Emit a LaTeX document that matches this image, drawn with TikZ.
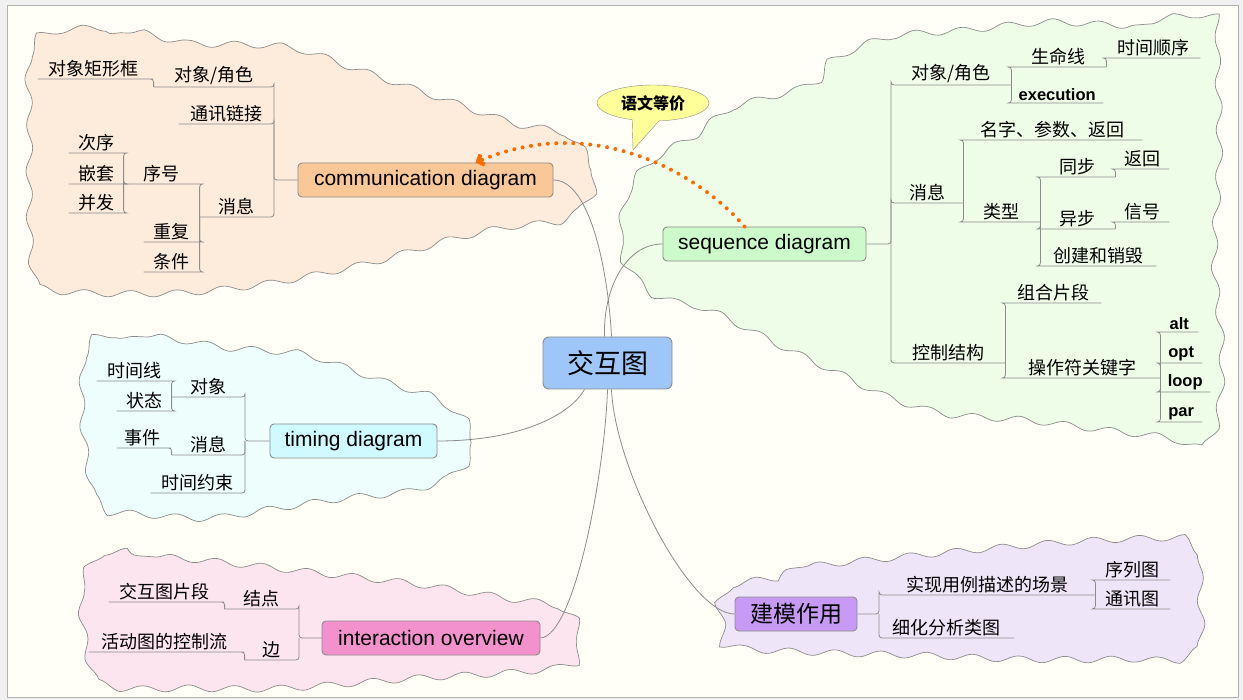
\documentclass[tikz,border=0pt]{standalone}
\usepackage{fontspec}
\setmainfont{Liberation Sans}
\newfontfamily\cjk{Noto Sans CJK SC}
\usetikzlibrary{decorations.pathmorphing,shapes.callouts,arrows.meta}
\definecolor{paper}{HTML}{FFFFF7}
\definecolor{rim}{HTML}{8C8C8C}
\definecolor{peach}{HTML}{FDEBDC}
\definecolor{mint}{HTML}{EEFDE8}
\definecolor{ice}{HTML}{EEFEFC}
\definecolor{blush}{HTML}{FCE5EF}
\definecolor{lilac}{HTML}{EFE5F9}
\definecolor{commcol}{HTML}{FAC796}
\definecolor{seqcol}{HTML}{CDFACB}
\definecolor{timcol}{HTML}{CFFAFF}
\definecolor{intcol}{HTML}{F291CB}
\definecolor{modcol}{HTML}{C69AF5}
\definecolor{ctrcol}{HTML}{9EC6F8}
\definecolor{dotcol}{HTML}{FF6A00}
\definecolor{notecol}{HTML}{FFFF99}

\begin{document}
\begin{tikzpicture}[x=1pt,y=-1pt,
    topic/.style={draw=rim, line width=0.9pt, rounded corners=4pt, minimum height=34, inner xsep=4pt, font=\fontsize{21}{24}\selectfont},
    lbl/.style={inner xsep=0pt, inner ysep=2pt, font={\cjk\fontsize{18}{20}\selectfont}},
    en/.style={inner xsep=0pt, inner ysep=2pt, font={\bfseries\fontsize{16.5}{19}\selectfont}},
    br/.style={draw=rim, line width=0.8pt, rounded corners=3pt},
    link/.style={draw=rim, line width=0.8pt},
    blob/.style={draw=rim, line width=0.7pt, decorate, decoration={snake, amplitude=3.2pt, segment length=46pt}}]
\useasboundingbox (0,0) rectangle (1243,700);
\fill[gray!12] (0,0) rectangle (1243,700);
\filldraw[fill=paper, draw=gray!60] (7,5) rectangle (1238,697);

% clouds
\path[blob, fill=peach] plot[smooth cycle] coordinates {(24,43) (130,33) (174,43) (277,47) (348,70) (435,100) (502,123) (553,133) (577,157) (583,180) (577,200) (553,220) (494,227) (435,240) (356,263) (257,283) (158,293) (40,290) (18,267) (16,133)};
\path[blob, fill=mint] plot[smooth cycle] coordinates {(1219,20) (1136,25) (1057,22) (977,30) (898,37) (838,63) (819,87) (739,110) (711,133) (668,157) (640,187) (630,233) (636,267) (668,300) (719,313) (787,347) (850,377) (898,400) (957,417) (1037,423) (1116,433) (1176,440) (1220,447) (1231,367) (1223,267) (1228,167) (1226,70)};
\path[blob, fill=ice] plot[smooth cycle] coordinates {(80,343) (147,337) (214,347) (290,353) (335,367) (379,383) (424,397) (455,420) (464,450) (446,473) (401,490) (335,497) (268,507) (201,517) (134,513) (89,507) (76,460) (71,393)};
\path[blob, fill=blush] plot[smooth cycle] coordinates {(85,557) (156,557) (223,563) (312,573) (401,583) (491,597) (553,607) (566,630) (562,663) (513,673) (401,680) (268,690) (178,690) (89,687) (71,643) (67,593)};
\path[blob, fill=lilac] plot[smooth cycle] coordinates {(714,580) (804,567) (873,560) (977,550) (1063,543) (1133,540) (1184,543) (1188,587) (1184,653) (1115,657) (1011,657) (908,653) (804,650) (717,643) (710,613)};

% main topics
\node[topic, fill=ctrcol, minimum width=129, minimum height=52, rounded corners=6pt, font={\cjk\fontsize{27}{30}\selectfont}] (ctr) at (607.5,363) {交互图};
\node[topic, fill=commcol, minimum width=255] (comm) at (425.5,180) {communication diagram};
\node[topic, fill=seqcol, minimum width=203] (seq) at (764.5,244) {sequence diagram};
\node[topic, fill=timcol, minimum width=167] (timing) at (353.5,441) {timing diagram};
\node[topic, fill=intcol, minimum width=218] (inter) at (431,638) {interaction overview};
\node[topic, fill=modcol, minimum width=122, font={\cjk\fontsize{23}{26}\selectfont}] (model) at (796,614) {建模作用};

\draw[link] (comm.east) .. controls (590,180) and (608,270) .. ([xshift=4pt]ctr.north);
\draw[link] (seq.west) .. controls (625,244) and (603,290) .. ([xshift=-3pt]ctr.north);
\draw[link] (timing.east) .. controls (520,441) and (570,415) .. ([xshift=-23pt]ctr.south);
\draw[link] (inter.east) .. controls (575,636) and (605,470) .. (ctr.south);
\draw[link] (model.west) .. controls (690,614) and (615,470) .. ([xshift=4pt]ctr.south);

% communication diagram
\coordinate (commj) at (274,180);
\node[lbl, anchor=south east, minimum width=120] (cobj) at (274,87) {对象/角色};
\node[lbl, anchor=south east, minimum width=112] (cbox) at (150,79) {对象矩形框};
\node[lbl, anchor=south east, minimum width=95] (clink) at (274,124) {通讯链接};
\node[lbl, anchor=south east, minimum width=74] (cmsg) at (274,217) {消息};
\node[lbl, anchor=south east, minimum width=76] (cnum) at (200,184) {序号};
\node[lbl, anchor=south east, minimum width=56] (crep) at (200,242) {重复};
\node[lbl, anchor=south east, minimum width=56] (ccond) at (200,272) {条件};
\node[lbl, anchor=south east, minimum width=55] (corder) at (124,153) {次序};
\node[lbl, anchor=south east, minimum width=55] (cnest) at (124,184) {嵌套};
\node[lbl, anchor=south east, minimum width=55] (cpar) at (124,213) {并发};
\draw[br] (comm.west) -- (commj) |- (cobj.south east) -- (cobj.south west);
\draw[br] (commj) |- (clink.south east) -- (clink.south west);
\draw[br] (commj) |- (cmsg.south east) -- (cmsg.south west);
\draw[br] (cobj.south west) |- (cbox.south east) -- (cbox.south west);
\draw[br] (cmsg.south west) |- (cnum.south east) -- (cnum.south west);
\draw[br] (cmsg.south west) |- (crep.south east) -- (crep.south west);
\draw[br] (cmsg.south west) |- (ccond.south east) -- (ccond.south west);
\draw[br] (cnum.south west) |- (corder.south east) -- (corder.south west);
\draw[br] (cnum.south west) |- (cnest.south east) -- (cnest.south west);
\draw[br] (cnum.south west) |- (cpar.south east) -- (cpar.south west);

% sequence diagram
\coordinate (seqj) at (891,244);
\node[lbl, anchor=south west, minimum width=120] (sobj) at (891,85) {对象/角色};
\node[lbl, anchor=south west, minimum width=95] (slife) at (1011,67) {生命线};
\node[lbl, anchor=south west, minimum width=94] (stime) at (1106,58) {时间顺序};
\node[en, anchor=south west, minimum width=92] (sexec) at (1011,103) {execution};
\node[lbl, anchor=south west, minimum width=72] (smsg) at (891,203) {消息};
\node[lbl, anchor=south west, minimum width=179] (sname) at (963,140) {名字、参数、返回};
\node[lbl, anchor=south west, minimum width=77] (stype) at (963,222) {类型};
\node[lbl, anchor=south west, minimum width=75] (ssync) at (1040,177) {同步};
\node[lbl, anchor=south west, minimum width=54] (sret) at (1115,169) {返回};
\node[lbl, anchor=south west, minimum width=75] (sasync) at (1040,229) {异步};
\node[lbl, anchor=south west, minimum width=54] (ssig) at (1115,222) {信号};
\node[lbl, anchor=south west, minimum width=116] (snew) at (1040,266) {创建和销毁};
\node[lbl, anchor=south west, minimum width=114] (sctrl) at (891,363) {控制结构};
\node[lbl, anchor=south west, minimum width=96] (sfrag) at (1005,303) {组合片段};
\node[lbl, anchor=south west, minimum width=155] (sop) at (1005,378) {操作符关键字};
\node[en, anchor=south west, minimum width=38] (salt) at (1160,332) {alt};
\node[en, anchor=south west, minimum width=42] (sopt) at (1160,363) {opt};
\node[en, anchor=south west, minimum width=50] (sloop) at (1160,392) {loop};
\node[en, anchor=south west, minimum width=42] (spar) at (1160,422) {par};
\draw[br] (seq.east) -- (seqj) |- (sobj.south west) -- (sobj.south east);
\draw[br] (seqj) |- (smsg.south west) -- (smsg.south east);
\draw[br] (seqj) |- (sctrl.south west) -- (sctrl.south east);
\draw[br] (sobj.south east) |- (slife.south west) -- (slife.south east);
\draw[br] (sobj.south east) |- (sexec.south west) -- (sexec.south east);
\draw[br] (slife.south east) |- (stime.south west) -- (stime.south east);
\draw[br] (smsg.south east) |- (sname.south west) -- (sname.south east);
\draw[br] (smsg.south east) |- (stype.south west) -- (stype.south east);
\draw[br] (stype.south east) |- (ssync.south west) -- (ssync.south east);
\draw[br] (stype.south east) |- (sasync.south west) -- (sasync.south east);
\draw[br] (stype.south east) |- (snew.south west) -- (snew.south east);
\draw[br] (ssync.south east) |- (sret.south west) -- (sret.south east);
\draw[br] (sasync.south east) |- (ssig.south west) -- (ssig.south east);
\draw[br] (sctrl.south east) |- (sfrag.south west) -- (sfrag.south east);
\draw[br] (sctrl.south east) |- (sop.south west) -- (sop.south east);
\draw[br] (sop.south east) |- (salt.south west) -- (salt.south east);
\draw[br] (sop.south east) |- (sopt.south west) -- (sopt.south east);
\draw[br] (sop.south east) |- (sloop.south west) -- (sloop.south east);
\draw[br] (sop.south east) |- (spar.south west) -- (spar.south east);

% timing diagram
\coordinate (timj) at (245,441);
\node[lbl, anchor=south east, minimum width=73] (tobj) at (245,397) {对象};
\node[lbl, anchor=south east, minimum width=75] (tline) at (172,381) {时间线};
\node[lbl, anchor=south east, minimum width=55] (tstate) at (172,411) {状态};
\node[lbl, anchor=south east, minimum width=73] (tmsg) at (245,455) {消息};
\node[lbl, anchor=south east, minimum width=51] (tevent) at (168,448) {事件};
\node[lbl, anchor=south east, minimum width=94] (tcons) at (245,493) {时间约束};
\draw[br] (timing.west) -- (timj) |- (tobj.south east) -- (tobj.south west);
\draw[br] (timj) |- (tmsg.south east) -- (tmsg.south west);
\draw[br] (timj) |- (tcons.south east) -- (tcons.south west);
\draw[br] (tobj.south west) |- (tline.south east) -- (tline.south west);
\draw[br] (tobj.south west) |- (tstate.south east) -- (tstate.south west);
\draw[br] (tmsg.south west) |- (tevent.south east) -- (tevent.south west);

% interaction overview
\coordinate (intj) at (299,638);
\node[lbl, anchor=south east, minimum width=74] (inode) at (299,609) {结点};
\node[lbl, anchor=south east, minimum width=112] (ifrag) at (221,602) {交互图片段};
\node[lbl, anchor=south east, minimum width=54] (iedge) at (299,660) {边};
\node[lbl, anchor=south east, minimum width=152] (iflow) at (241,652) {活动图的控制流};
\draw[br] (inter.west) -- (intj) |- (inode.south east) -- (inode.south west);
\draw[br] (intj) |- (iedge.south east) -- (iedge.south west);
\draw[br] (inode.south west) |- (ifrag.south east) -- (ifrag.south west);
\draw[br] (iedge.south west) |- (iflow.south east) -- (iflow.south west);

% modelling role
\coordinate (modj) at (879,614);
\node[lbl, anchor=south west, minimum width=216] (mreal) at (879,595) {实现用例描述的场景};
\node[lbl, anchor=south west, minimum width=75] (mseq) at (1095,580) {序列图};
\node[lbl, anchor=south west, minimum width=75] (mcomm) at (1095,609) {通讯图};
\node[lbl, anchor=south west, minimum width=135] (mclass) at (879,638) {细化分析类图};
\draw[br] (model.east) -- (modj) |- (mreal.south west) -- (mreal.south east);
\draw[br] (modj) |- (mclass.south west) -- (mclass.south east);
\draw[br] (mreal.south east) |- (mseq.south west) -- (mseq.south east);
\draw[br] (mreal.south east) |- (mcomm.south west) -- (mcomm.south east);

% semantic link
\node[ellipse callout, draw=rim, fill=notecol, minimum width=112, minimum height=36, inner sep=0pt,
    callout absolute pointer={(633,150)}, callout pointer arc=28,
    font={\cjk\bfseries\fontsize{16}{18}\selectfont}] (equiv) at (653,103) {语文等价};
\draw[dotcol, line width=4pt, dash pattern=on 0pt off 8.5pt, line cap=round,
    -{Straight Barb[length=5pt, width=11pt]}]
    ([xshift=-20pt]seq.north) .. controls (705,180) and (600,110) .. ([xshift=50pt]comm.north);
\end{tikzpicture}
\end{document}
